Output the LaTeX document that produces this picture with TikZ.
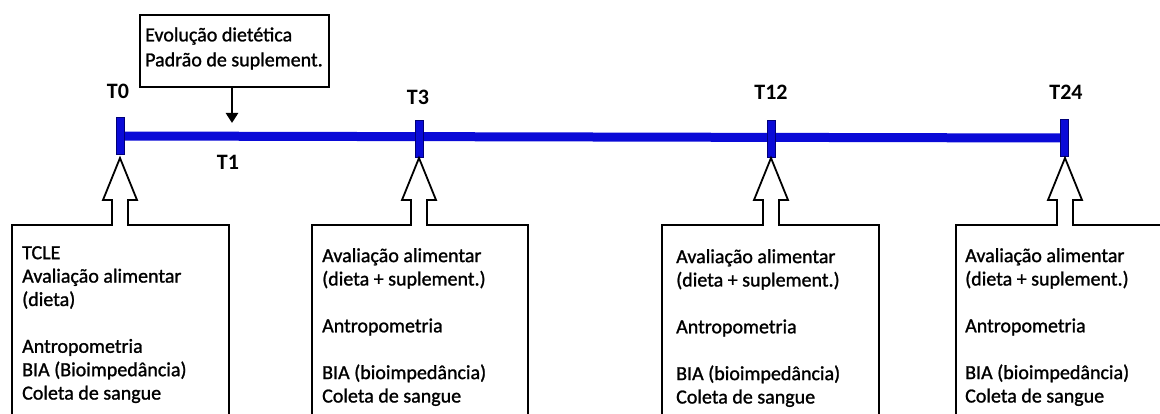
\documentclass[tikz,border=0pt]{standalone}
\usepackage{fontspec}
\setmainfont{Carlito}
\newfontfamily\heavyfont[FakeBold=1.2]{Carlito}
\usetikzlibrary{arrows.meta}
\definecolor{lineblue}{RGB}{10,10,215}
\definecolor{edgeblue}{RGB}{0,0,120}
\tikzset{
  timeline/.style={draw=lineblue, line width=9pt},
  tick/.style={draw=edgeblue, fill=lineblue, line width=1pt, minimum width=8pt, minimum height=37pt, inner sep=0pt},
  tlabel/.style={font=\fontsize{22}{24}\selectfont\bfseries},
  boxtext/.style={align=left, anchor=north west, inner sep=0pt, font=\fontsize{20}{23.4}\heavyfont},
  callout/.style={draw=black, line width=1.8pt, fill=white, line join=miter},
}
\begin{document}
\begin{tikzpicture}[x=1pt,y=-1pt]
  \useasboundingbox (0,0) rectangle (1160,414);
  \clip (0,0) rectangle (1160,414);
  % time axis
  \node[tick] (t0) at (120,136) {};
  \node[tick] (t3) at (419,139) {};
  \node[tick] (t12) at (771,139) {};
  \node[tick] (t24) at (1064,138) {};
  \draw[timeline] (t0.center) -- (t24.center);
  \node[tick] at (t0) {};
  \node[tick] at (t3) {};
  \node[tick] at (t12) {};
  \node[tick] at (t24) {};
  \node[tlabel] (l0) at (118,91) {T0};
  \node[tlabel] (l3) at (418,97) {T3};
  \node[tlabel] (l12) at (771,92) {T12};
  \node[tlabel] (l24) at (1066,92) {T24};
  \node[tlabel] (l1) at (228,162) {T1};
  % top note
  \node[draw, line width=1.6pt, minimum width=189pt, minimum height=72pt, inner sep=0pt] (evol) at (234.5,51) {};
  \node[boxtext, anchor=west, font=\fontsize{20}{25}\heavyfont] (evoltext) at (145,48.5) {Evolução dietética\\Padrão de suplement.};
  \draw[line width=2.8pt, -{Triangle[width=12pt,length=10pt]}] (evol.south -| 232,0) -- (232,123) coordinate (t1);
  % callouts
  \foreach \x/\l/\r in {120/12/229, 419/312/528, 771/662/879, 1065/956/1200}{
    \draw[callout] (\l,440) -- (\l,225) -- (\x-8,225) -- (\x-8,200) -- (\x-17,200) -- (\x,158)
      -- (\x+17,200) -- (\x+8,200) -- (\x+8,225) -- (\r,225) -- (\r,440);
  }
  \node[boxtext] (b0) at (22,246) {TCLE\\Avaliação alimentar\\(dieta)\\[23.4pt]Antropometria\\BIA (Bioimpedância)\\Coleta de sangue};
  \node[boxtext] (b3) at (322,248) {Avaliação alimentar\\(dieta + suplement.)\\[23.4pt]Antropometria\\[23.4pt]BIA (bioimpedância)\\Coleta de sangue};
  \node[boxtext] (b12) at (676,249) {Avaliação alimentar\\(dieta + suplement.)\\[23.4pt]Antropometria\\[23.4pt]BIA (bioimpedância)\\Coleta de sangue};
  \node[boxtext] (b24) at (965,248) {Avaliação alimentar\\(dieta + suplement.)\\[23.4pt]Antropometria\\[23.4pt]BIA (bioimpedância)\\Coleta de sangue};
\end{tikzpicture}
\end{document}
